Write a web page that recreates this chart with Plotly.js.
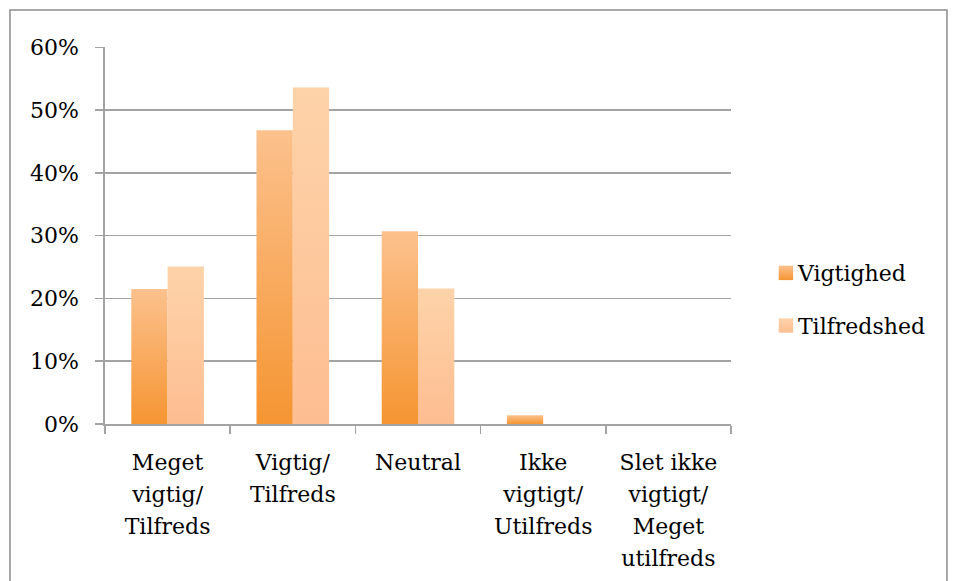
<!DOCTYPE html>
<html>
<head>
<meta charset="utf-8">
<script src="https://cdn.plot.ly/plotly-3.0.1.min.js"></script>
<style>
html,body{margin:0;padding:0;background:#fff;}
#chart{width:957px;height:581px;}
</style>
</head>
<body>
<div id="chart"></div>
<script>
// Data
const categories = ["Meget<br>vigtig/<br>Tilfreds", "Vigtig/<br>Tilfreds", "Neutral", "Ikke<br>vigtigt/<br>Utilfreds", "Slet ikke<br>vigtigt/<br>Meget<br>utilfreds"];
const vigtighed = [0.215, 0.468, 0.307, 0.014, 0];
const tilfredshed = [0.251, 0.536, 0.216, 0, 0];
const seriesNames = ["Vigtighed", "Tilfredshed"];
const yTickVals = [0, 0.1, 0.2, 0.3, 0.4, 0.5, 0.6];
const yTickText = ["0%", "10%", "20%", "30%", "40%", "50%", "60%"];

const fontFam = "DejaVu Serif, Liberation Serif, serif";
const gray = "#a3a3a3";

const traces = [
  {type: "bar", name: seriesNames[0], x: categories, y: vigtighed, legendgroup: "a",
   marker: {color: "#f8aa5e", line: {width: 0}}, hoverinfo: "skip"},
  {type: "bar", name: seriesNames[1], x: categories, y: tilfredshed, legendgroup: "b",
   marker: {color: "#fdc89c", line: {width: 0}}, hoverinfo: "skip"}
];

const layout = {
  width: 957, height: 581,
  margin: {l: 105, r: 226, t: 47, b: 157},
  paper_bgcolor: "#ffffff", plot_bgcolor: "#ffffff",
  barmode: "group", bargap: 0.42, bargroupgap: 0,
  font: {family: fontFam, size: 22, color: "#000"},
  showlegend: true,
  legend: {x: 1.043, xanchor: "left", y: 0.33, yanchor: "middle",
           font: {family: fontFam, size: 22, color: "#000"},
           traceorder: "grouped", tracegroupgap: 21, itemwidth: 30,
           bgcolor: "rgba(0,0,0,0)"},
  xaxis: {type: "category", showline: true, linecolor: gray, linewidth: 1.6,
          ticks: "outside", ticklen: 8, tickcolor: gray, tickwidth: 1.6,
          tickson: "boundaries", showgrid: false, zeroline: false,
          ticklabelstandoff: 18,
          tickfont: {family: fontFam, size: 22, color: "#000"}, tickangle: 0,
          automargin: false},
  yaxis: {range: [0, 0.6005], tickvals: yTickVals, ticktext: yTickText,
          showline: true, linecolor: gray, linewidth: 1.6,
          ticks: "outside", ticklen: 8, tickcolor: gray, tickwidth: 1.6,
          ticklabelstandoff: 12,
          showgrid: true, gridcolor: gray, gridwidth: 1.6, zeroline: false,
          tickfont: {family: fontFam, size: 22, color: "#000"},
          automargin: false},
  shapes: [{type: "rect", xref: "paper", yref: "paper",
            x0: -0.1518, x1: 1.345, y0: -0.6, y1: 1.098,
            line: {color: "#8c8c8c", width: 1.5}, fillcolor: "rgba(0,0,0,0)", layer: "below"}]
};

Plotly.newPlot("chart", traces, layout, {staticPlot: true, displayModeBar: false}).then(function(gd){
  const svgNS = "http://www.w3.org/2000/svg";
  const svg = gd.querySelector("svg.main-svg");
  let defs = svg.querySelector("defs");
  if (!defs) { defs = document.createElementNS(svgNS, "defs"); svg.insertBefore(defs, svg.firstChild); }
  function grad(id, bottom, top) {
    const g = document.createElementNS(svgNS, "linearGradient");
    g.setAttribute("id", id);
    g.setAttribute("x1", "0"); g.setAttribute("y1", "1");
    g.setAttribute("x2", "0"); g.setAttribute("y2", "0");
    const s1 = document.createElementNS(svgNS, "stop");
    s1.setAttribute("offset", "0"); s1.setAttribute("stop-color", bottom);
    const s2 = document.createElementNS(svgNS, "stop");
    s2.setAttribute("offset", "1"); s2.setAttribute("stop-color", top);
    g.appendChild(s1); g.appendChild(s2); defs.appendChild(g);
  }
  grad("gradV", "#f59532", "#fcc18d");
  grad("gradT", "#fdbd91", "#fed3a9");
  const ids = ["gradV", "gradT"];
  gd.querySelectorAll(".barlayer .trace.bars").forEach(function(t, i){
    t.querySelectorAll("path").forEach(function(p){ p.style.fill = "url(#" + ids[i] + ")"; });
  });
  gd.querySelectorAll(".legend .traces").forEach(function(t, i){
    t.querySelectorAll(".legendpoints path").forEach(function(p){
      p.style.fill = "url(#" + ids[i] + ")";
      p.setAttribute("transform", "translate(28,0) scale(1.2)");
    });
  });
  // widen line spacing of multi-line category labels
  gd.querySelectorAll(".xtick text").forEach(function(t){
    t.querySelectorAll("tspan.line").forEach(function(ln, k){
      ln.setAttribute("dy", (k * 1.45) + "em");
    });
  });
});
</script>
</body>
</html>
